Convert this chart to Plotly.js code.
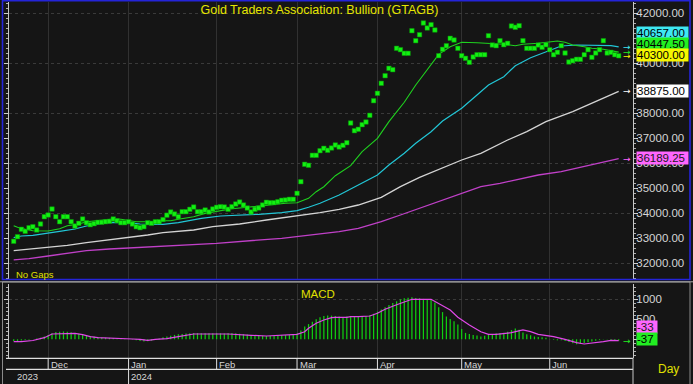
<!DOCTYPE html>
<html><head><meta charset="utf-8">
<script src="https://cdn.plot.ly/plotly-3.0.1.min.js"></script>
<style>html,body{margin:0;padding:0;background:#151515;}#chart{width:693px;height:384px;}</style>
</head><body><div id="chart"></div>
<script>
// ---------------- data ----------------
const firstDay = '2023-11-20';   // first trading day shown (weekdays only, "No Gaps")
const nDays = 159;

// daily close (green squares)
const close = [
32880,33064,33360,33280,33424,33464,33332,33572,33864,33932,34172,33864,33664,33864,33864,33664,33492,33600,33772,33624,
33544,33584,33640,33640,33664,33680,33772,33704,33624,33624,33664,33572,33464,33424,33464,33624,33600,33664,33664,33750,
33925,34052,33972,33864,34064,34064,34160,34252,34064,34064,34132,34052,34172,34240,34264,34252,34160,34264,34372,34452,
34332,34212,34052,34160,34212,34332,34440,34424,34424,34464,34520,34532,34560,34560,34800,35264,35960,35920,36320,36320,
36504,36600,36520,36612,36732,36652,36720,36824,37612,37304,37360,37544,37652,37920,38504,38800,39200,39504,39800,39744,
40600,40544,40400,40400,41304,40904,41144,41612,41412,41544,41332,40304,40560,40704,41000,40932,40600,40304,40200,40040,
40252,40344,40344,40344,41104,40732,40704,40904,40744,40800,41492,41440,41504,40904,40600,40600,40600,40732,40640,40744,
40544,40344,40440,40704,40412,40052,40104,40160,40160,40344,40544,40240,40412,40544,40904,40412,40440,40344,40300];

// moving averages, read at sampled trading-day indices
const maGreenIdx = [0,1,3,5,9,12,14,17,19,22,25,26,28,30,32,35,38,39,41,43,47,50,54,57,61,64,68,71,74,77,79,81,84,88,91,95,98,102,105,109,111,114,116,117,121,124,128,131,133,137,140,142,144,146,149,151,154,156,158];
const maGreen = [33504,33440,33360,33304,33292,33384,33504,33572,33664,33704,33732,33772,33760,33704,33664,33664,33664,33704,33704,33760,33864,33996,34092,34184,34240,34292,34344,34400,34424,34600,34864,35064,35504,35904,36464,37000,37664,38440,39132,39960,40360,40664,40772,40840,40824,40800,40760,40704,40760,40800,40864,40892,40840,40732,40664,40600,40560,40504,40447.5];

const maCyanIdx = [0,2,5,9,12,16,19,23,26,30,33,37,39,43,49,54,59,64,70,74,77,80,85,90,95,98,102,105,109,112,117,121,124,128,131,135,138,140,143,147,150,154,156,158];
const maCyan = [33024,33092,33120,33200,33280,33372,33492,33600,33640,33624,33572,33560,33560,33624,33800,33892,33920,33960,34024,34104,34240,34400,34732,35132,35532,35932,36400,36800,37264,37692,38200,38732,39132,39464,39904,40224,40400,40532,40692,40732,40732,40732,40704,40657];

const maWhiteIdx = [0,4,9,14,19,25,30,35,39,47,52,59,66,73,80,85,90,96,101,106,111,117,122,127,129,134,139,146,151,158];
const maWhite = [32504,32560,32624,32720,32824,32932,33012,33132,33224,33332,33464,33572,33732,33864,34024,34160,34332,34640,35064,35440,35760,36132,36400,36800,36932,37264,37664,38064,38400,38875];

const maMagIdx = [0,4,9,14,19,25,30,35,39,53,70,85,90,96,101,106,111,117,122,127,132,137,143,148,153,158];
const maMag = [32140,32184,32292,32400,32504,32572,32612,32650,32670,32800,33000,33264,33400,33664,33932,34200,34464,34800,35064,35200,35360,35532,35664,35840,36024,36189.25];

// MACD (green bars, one per day)
const macd = [
-40,-45,-30,-20,-10,0,20,40,70,
110,150,180,190,195,190,175,160,140,120,100,85,70,55,45,40,35,30,25,15,5,
0,-10,-25,-40,-55,-50,-35,-10,20,50,70,90,110,125,135,145,150,155,155,150,150,150,150,
150,150,145,150,155,150,140,130,120,105,95,90,85,80,85,90,95,100,105,110,115,
150,217,317,380,440,500,550,583,592,592,583,567,
560,570,583,583,583,583,583,600,640,690,745,800,860,910,950,1000,1025,1040,1050,1035,1025,1010,1000,1000,920,800,680,570,510,450,370,260,160,135,110,95,70,90,110,135,150,155,165,190,230,270,240,170,125,100,70,58,50,40,5,-15,-25,-25,-40,-70,-100,-125,-110,-95,-75,-55,-35,-20,-5,-5,-20,-30,-37];

// MACD signal line (magenta), sampled
const sigIdx = [0,2,5,8,10,13,16,18,20,22,25,29,31,33,35,37,40,43,45,47,56,59,62,66,70,74,76,77,79,81,83,84,87,88,90,93,95,97,100,103,104,109,111,114,116,119,122,124,126,130,133,135,137,141,144,147,149,151,154,156,158];
const sigVal = [-60,-60,-30,40,133,150,150,117,67,42,25,17,8,0,-25,0,17,67,100,133,133,125,100,83,100,125,190,275,400,483,540,550,550,565,565,583,650,750,865,965,1000,1000,900,733,550,358,190,125,125,165,233,190,125,67,0,-83,-117,-100,-58,-25,-33];

// axis ticks / labels
const monthTickDates = ['2023-12-01','2024-01-01','2024-02-01','2024-03-01','2024-04-01','2024-05-01','2024-06-03'];
const monthTickText = ['Dec','Jan','Feb','Mar','Apr','May','Jun'];
const yearTickDates = ['2024-01-01'];
const yearTickText = ['2024'];
const firstYearText = '2023';
const priceTicks = [32000,33000,34000,35000,36000,37000,38000,40000,42000];
const priceGrid = 2000;
const macdTicks = [0,500,1000];
const macdGrid = [1000];

// ---------------- build ----------------
function weekdays(start, n){
  const out=[]; const d=new Date(start+'T00:00:00Z');
  while(out.length<n){ const w=d.getUTCDay(); if(w!==0&&w!==6) out.push(d.toISOString().slice(0,10)); d.setUTCDate(d.getUTCDate()+1); }
  return out;
}
const dates = weekdays(firstDay, nDays);
const at = idx => idx.map(i=>dates[i]);
const last = a => a[a.length-1];
const lastDate = dates[dates.length-1];

const FONT = 'Liberation Sans, Arial, sans-serif';
const C = {green:'#1fd21f', cyan:'#22c6d6', white:'#d4d4d4', mag:'#c040c8', dot:'#12f012', bar:'#10d010', sig:'#e048e8'};

const traces = [
  {type:'scatter', mode:'lines', x:at(maMagIdx), y:maMag, line:{color:C.mag,width:1.3}, xaxis:'x', yaxis:'y', hoverinfo:'skip'},
  {type:'scatter', mode:'lines', x:at(maWhiteIdx), y:maWhite, line:{color:C.white,width:1.3}, xaxis:'x', yaxis:'y', hoverinfo:'skip'},
  {type:'scatter', mode:'lines', x:at(maCyanIdx), y:maCyan, line:{color:C.cyan,width:1.2}, xaxis:'x', yaxis:'y', hoverinfo:'skip'},
  {type:'scatter', mode:'lines', x:at(maGreenIdx), y:maGreen, line:{color:C.green,width:1.1}, xaxis:'x', yaxis:'y', hoverinfo:'skip'},
  {type:'scatter', mode:'markers', x:dates, y:close, marker:{symbol:'square', size:4.5, color:C.dot, line:{color:'#0a900a', width:0.5}}, xaxis:'x', yaxis:'y', hoverinfo:'skip'},
  {type:'bar', x:dates, y:macd, width:0.32, marker:{color:C.bar, line:{width:0}}, xaxis:'x2', yaxis:'y2', hoverinfo:'skip'},
  {type:'scatter', mode:'lines', x:at(sigIdx), y:sigVal, line:{color:C.sig,width:1.2}, xaxis:'x2', yaxis:'y2', hoverinfo:'skip'},
  {type:'scatter', x:[], y:[], xaxis:'x', yaxis:'y3', hoverinfo:'skip'},
  {type:'scatter', x:[], y:[], xaxis:'x2', yaxis:'y4', hoverinfo:'skip'}
];

const L = 9, R = 633, W = 693, H = 384;
const px = v => (v - L)/(R - L);      // pixel x -> paper x
const py = v => 1 - v/H;              // pixel y -> paper y
const xr = [-1.2275, 161.74];

const xCommon = {type:'category', categoryorder:'array', categoryarray:dates, range:xr,
  tickmode:'array', tickvals:monthTickDates, showticklabels:false, ticks:'',
  showgrid:true, gridcolor:'#313131', gridwidth:1, zeroline:false, showline:false, fixedrange:true};

const tickStyle = {color:'#d6d6d6', size:11.5, family:FONT};
const priceRange = [31372, 42452];
const macdRange = [-467.5, 1382.5];

function box(yref, val, text, bg, fg, yshift, width){
  return {xref:'paper', x:1, xanchor:'left', xshift:2.5, yref:yref, y:val, yanchor:'middle', yshift:yshift,
    text:text, bgcolor:bg, font:{color:fg, size:11.5, family:FONT}, showarrow:false,
    width:width, height:11.5, align:'left', borderpad:0};
}
function arrow(xref, yref, val, color){
  return {xref:xref, x:lastDate, xshift:8, yref:yref, y:val, yanchor:'middle', text:'→',
    font:{color:color, size:9, family:'DejaVu Sans, sans-serif'}, showarrow:false};
}

const annotations = [
  {xref:'paper', x:px(14), xanchor:'left', yref:'paper', y:py(274), yanchor:'middle', text:'No Gaps', showarrow:false, font:{color:'#e0e000', size:9.5, family:FONT}},
  {xref:'paper', x:px(317.5), xanchor:'center', yref:'paper', y:py(293.5), yanchor:'middle', text:'MACD', showarrow:false, font:{color:'#e0e000', size:11.5, family:FONT}},
  {xref:'paper', x:px(668), xanchor:'center', yref:'paper', y:py(369), yanchor:'middle', text:'Day', showarrow:false, font:{color:'#e0e000', size:12, family:FONT}},
  {xref:'paper', x:px(15), xanchor:'left', yref:'paper', y:py(376.5), yanchor:'middle', text:firstYearText, showarrow:false, font:{color:'#d6d6d6', size:9.5, family:FONT}},
  // value boxes
  box('y', last(maCyan), last(maCyan).toFixed(2), '#3ee8f2', '#000', 14.2, 51),
  box('y', last(maGreen), last(maGreen).toFixed(2), '#22ee22', '#000', 8.2, 51),
  box('y', last(close), last(close).toFixed(2), '#f6f600', '#000', 0.5, 51),
  box('y', last(maWhite), last(maWhite).toFixed(2), '#ffffff', '#000', 0, 51),
  box('y', last(maMag), last(maMag).toFixed(2), '#ff66ff', '#1a1a1a', 0.4, 51),
  box('y2', last(sigVal), String(last(sigVal)), '#ff66ff', '#1a1a1a', 13.8, 20),
  box('y2', last(macd), String(last(macd)), '#22ee22', '#000', 2, 20),
  arrow('x','y', last(maCyan), '#3ee8f2'),
  arrow('x','y', last(maGreen), '#22ee22'),
  arrow('x','y', last(close), '#f6f600'),
  arrow('x','y', last(maWhite), '#ffffff'),
  arrow('x','y', last(maMag), '#ff66ff'),
  arrow('x2','y2', last(macd), '#22ee22')
];
monthTickDates.forEach((d,k)=>annotations.push({xref:'x', x:d, xanchor:'left', xshift:0.5, yref:'paper', y:py(364), yanchor:'middle', text:monthTickText[k], showarrow:false, font:{color:'#d6d6d6', size:9.5, family:FONT}}));
yearTickDates.forEach((d,k)=>annotations.push({xref:'x', x:d, xanchor:'left', xshift:0.5, yref:'paper', y:py(376.5), yanchor:'middle', text:yearTickText[k], showarrow:false, font:{color:'#d6d6d6', size:9.5, family:FONT}}));

const shapes = [
  // date strip lines
  {type:'line', xref:'paper', yref:'paper', x0:px(6), x1:1, y0:py(358.3), y1:py(358.3), line:{color:'#e0e0e0', width:1.2}},
  {type:'line', xref:'paper', yref:'paper', x0:px(6), x1:1, y0:py(369.3), y1:py(369.3), line:{color:'#e0e0e0', width:1.2}},
  {type:'line', xref:'paper', yref:'paper', x0:1, x1:1, y0:0, y1:py(358), line:{color:'#c8c8c8', width:1}},
  // panel borders
  {type:'rect', xref:'paper', yref:'paper', x0:px(2.5), x1:px(690), y0:py(282), y1:py(386), line:{color:'#8a8a8a', width:1}},
  {type:'line', xref:'paper', yref:'paper', x0:px(0), x1:px(693), y0:py(281.8), y1:py(281.8), line:{color:'#a8a8a8', width:1}},
  {type:'rect', xref:'paper', yref:'paper', x0:px(2.5), x1:px(690), y0:py(279.5), y1:py(0.8), line:{color:'#2424d8', width:1.6}}
];
monthTickDates.forEach(d=>shapes.push({type:'line', xref:'x', yref:'paper', x0:d, x1:d, y0:py(369.3), y1:py(358.3), line:{color:'#e0e0e0', width:1}}));
yearTickDates.forEach(d=>shapes.push({type:'line', xref:'x', yref:'paper', x0:d, x1:d, y0:0, y1:py(369.3), line:{color:'#e0e0e0', width:1}}));

const layout = {
  width:W, height:H, margin:{l:L, r:W-R, t:0, b:0, pad:0},
  paper_bgcolor:'#151515', plot_bgcolor:'#151515', showlegend:false,
  title:{text:'Gold Traders Association: Bullion (GTAGB)', x:319.5/W, xanchor:'center', y:py(10), yanchor:'middle', font:{color:'#e6e600', size:12.5, family:FONT}},
  xaxis: Object.assign({}, xCommon, {domain:[0,1], anchor:'y'}),
  xaxis2: Object.assign({}, xCommon, {domain:[0,1], anchor:'y2'}),
  yaxis: {domain:[py(279), py(2)], anchor:'x', side:'right', range:priceRange,
    tickmode:'array', tickvals:priceTicks, ticktext:priceTicks.map(v=>v.toFixed(2)),
    showgrid:false, zeroline:false, showline:true, linecolor:'#c8c8c8', linewidth:1,
    ticks:'outside', ticklen:4, tickcolor:'#d0d0d0', mirror:'ticks', tickfont:tickStyle, ticklabelstandoff:-4,
    minor:{ticks:'outside', ticklen:2, dtick:200, tickcolor:'#b0b0b0', showgrid:false}, fixedrange:true},
  yaxis3: {overlaying:'y', anchor:'x', side:'right', range:priceRange, tickmode:'linear', tick0:0, dtick:priceGrid,
    showgrid:true, gridcolor:'#3a3a3a', griddash:'dot', gridwidth:1, showticklabels:false, ticks:'', showline:false, zeroline:false, fixedrange:true},
  yaxis2: {domain:[py(358), py(284)], anchor:'x2', side:'right', range:macdRange,
    tickmode:'array', tickvals:macdTicks, ticktext:macdTicks.map(String),
    showgrid:false, zeroline:false, showline:true, linecolor:'#c8c8c8', linewidth:1,
    ticks:'outside', ticklen:4, tickcolor:'#d0d0d0', mirror:'ticks', tickfont:tickStyle, ticklabelstandoff:-4,
    minor:{ticks:'outside', ticklen:2, dtick:100, tickcolor:'#b0b0b0', showgrid:false}, fixedrange:true},
  yaxis4: {overlaying:'y2', anchor:'x2', side:'right', range:macdRange, tickmode:'array', tickvals:macdGrid,
    showgrid:true, gridcolor:'#3a3a3a', griddash:'dot', gridwidth:1, showticklabels:false, ticks:'', showline:false, zeroline:false, fixedrange:true},
  annotations: annotations,
  shapes: shapes
};

Plotly.newPlot('chart', traces, layout, {staticPlot:true, displayModeBar:false});
</script></body></html>
